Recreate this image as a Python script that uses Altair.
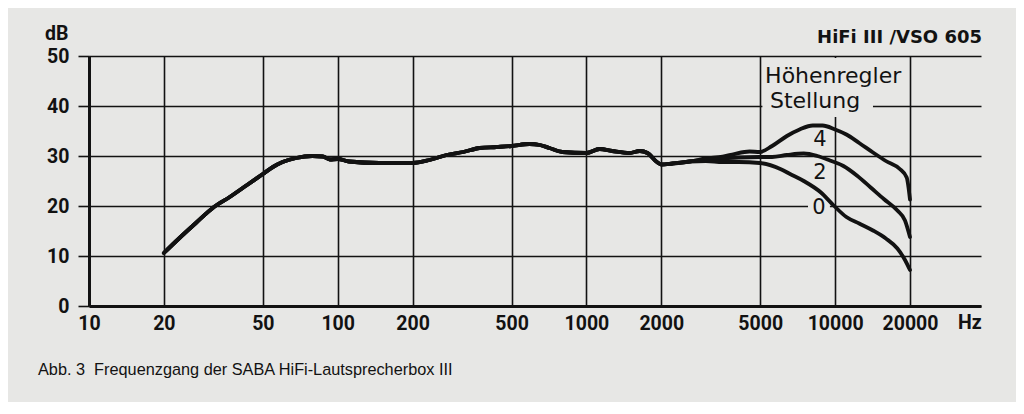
import altair as alt
import pandas as pd

# ---- data (frequency in Hz, level in dB) ----
common_f = [20, 23, 26.9, 31.8, 36.8, 43.2, 50, 54.9, 60, 68, 79, 87, 93, 100, 111, 147,
            200, 234, 274, 320, 372, 435, 500, 590, 650, 710, 800, 1000, 1130, 1270, 1490,
            1640, 1760, 1920, 2000, 2220, 2600]
common_db = [10.6, 13.5, 16.6, 19.8, 21.8, 24.2, 26.4, 27.8, 28.8, 29.6, 30.0, 29.9, 29.3, 29.4, 28.9, 28.6,
             28.6, 29.2, 30.2, 30.8, 31.6, 31.8, 32.0, 32.4, 32.2, 31.6, 30.8, 30.6, 31.4, 31.0, 30.6,
             31.0, 30.6, 28.8, 28.3, 28.5, 28.9]

pos4_f = [3020, 3530, 3860, 4530, 4980, 5580, 6400, 7200, 8130, 8900, 10000, 11100, 12500, 14200,
          16000, 18200, 19400, 20000]
pos4_db = [29.5, 29.9, 30.3, 30.9, 30.8, 32.0, 34.0, 35.3, 36.1, 36.1, 35.3, 34.3, 32.6, 30.7,
           29.0, 27.4, 25.7, 21.3]

pos2_f = [3020, 3530, 4100, 4980, 5580, 6400, 7480, 8480, 9530, 10800, 12300, 13900, 15700, 17800,
          19100, 20000]
pos2_db = [29.3, 29.5, 29.7, 29.8, 29.8, 30.2, 30.5, 30.0, 29.1, 28.0, 26.0, 23.7, 21.4, 19.1,
           17.1, 13.8]

pos0_f = [3020, 3530, 4100, 4980, 6020, 6590, 7480, 8770, 9870, 11100, 12500, 14200, 16000, 17800,
          19100, 20000]
pos0_db = [29.0, 28.8, 28.8, 28.6, 27.4, 26.4, 25.0, 22.7, 20.1, 17.8, 16.5, 15.1, 13.5, 11.5,
           9.2, 7.2]

x_ticks = [10, 20, 50, 100, 200, 500, 1000, 2000, 5000, 10000, 20000]
y_ticks = [0, 10, 20, 30, 40, 50]

# in-plot annotations (data coordinates)
ann_text = ["Höhenregler", "Stellung", "4", "2", "0"]
ann_f = [5230, 5470, 8690, 8690, 8610]
ann_db = [44.6, 39.6, 33.2, 26.6, 19.6]
ann_base = ["alphabetic", "alphabetic", "middle", "middle", "middle"]
ann_align = ["left", "left", "center", "center", "center"]

# background patches that interrupt grid lines behind labels
mask_f1 = [5100, 7780]
mask_f2 = [14200, 9530]
mask_db1 = [37.8, 18.6]
mask_db2 = [49.6, 21.0]

INK = "#121212"
PAPER = "#e7e7e5"

rows = []
for name, fs, ds in [("4", pos4_f, pos4_db), ("2", pos2_f, pos2_db), ("0", pos0_f, pos0_db)]:
    for f, d in zip(common_f + fs, common_db + ds):
        rows.append({"f": f, "db": d, "pos": name})
curves = pd.DataFrame(rows)

ann = pd.DataFrame({"t": ann_text, "f": ann_f, "db": ann_db})
masks = pd.DataFrame({"f1": mask_f1, "f2": mask_f2, "d1": mask_db1, "d2": mask_db2})

xscale = alt.Scale(type="log", domain=[10, 38600])
yscale = alt.Scale(domain=[0, 50])

xaxis = alt.Axis(values=x_ticks, format="d", labelFont="Roboto", labelFontSize=19.5,
                 labelFontWeight="bold", labelColor=INK, tickSize=0, labelPadding=8,
                 domainColor=INK, domainWidth=3, gridColor=INK, gridWidth=1.6, gridOpacity=1,
                 title=None, labelFlush=False, labelOverlap=False)
yaxis = alt.Axis(values=y_ticks, labelFont="Roboto", labelFontSize=19.5, labelFontWeight="bold",
                 labelColor=INK, tickSize=11, tickColor=INK, tickWidth=1.6, labelPadding=9,
                 domainColor=INK, domainWidth=3, gridColor=INK, gridWidth=1.6, gridOpacity=1,
                 title=None)

lines = alt.Chart(curves).mark_line(
    interpolate="monotone", strokeWidth=3.8, color=INK, strokeCap="round", strokeJoin="round"
).encode(
    x=alt.X("f:Q", scale=xscale, axis=xaxis),
    y=alt.Y("db:Q", scale=yscale, axis=yaxis),
    detail="pos:N",
)

mask = alt.Chart(masks).mark_rect(color=PAPER).encode(
    x=alt.X("f1:Q", scale=xscale), x2="f2:Q",
    y=alt.Y("d1:Q", scale=yscale), y2="d2:Q",
)

def ann_layer(i_list, size, weight):
    sub = ann.iloc[i_list]
    return alt.Chart(sub).mark_text(
        font="DejaVu Sans", fontSize=size, fontWeight=weight, color=INK,
        align=ann_align[i_list[0]], baseline=ann_base[i_list[0]]
    ).encode(
        x=alt.X("f:Q", scale=xscale), y=alt.Y("db:Q", scale=yscale), text="t:N"
    )

title_lbl = ann_layer([0, 1], 22, "normal")
num_lbl = ann_layer([2, 3, 4], 21, "normal")

page_text = ["dB", "Hz", "HiFi III /VSO 605",
             "Abb. 3\u00a0 Frequenzgang der SABA HiFi-Lautsprecherbox III"]

def page_layer(txt, x, y, align, font, size, weight):
    return alt.Chart(pd.DataFrame({"t": [txt]})).mark_text(
        font=font, fontSize=size, fontWeight=weight, color=INK, align=align, baseline="alphabetic"
    ).encode(x=alt.value(x), y=alt.value(y), text="t:N")

db_lbl = page_layer(page_text[0], -44, -16, "left", "Roboto", 19.5, "bold")
hz_lbl = page_layer(page_text[1], 869, 273, "left", "Roboto", 19.5, "bold")
model_lbl = page_layer(page_text[2], 893, -13, "right", "DejaVu Sans", 18, "bold")
caption = page_layer(page_text[3], -51, 319, "left", "Liberation Sans", 16.3, "normal")

chart = alt.layer(mask, lines, title_lbl, num_lbl, db_lbl, hz_lbl, model_lbl, caption).properties(
    width=892, height=250, background=PAPER,
    padding={"left": 81, "top": 48, "right": 35, "bottom": 96},
    autosize=alt.AutoSizeParams(type="none"),
).configure_view(strokeWidth=0)

chart.save("out.html", embed_options={"renderer": "svg", "actions": False})
